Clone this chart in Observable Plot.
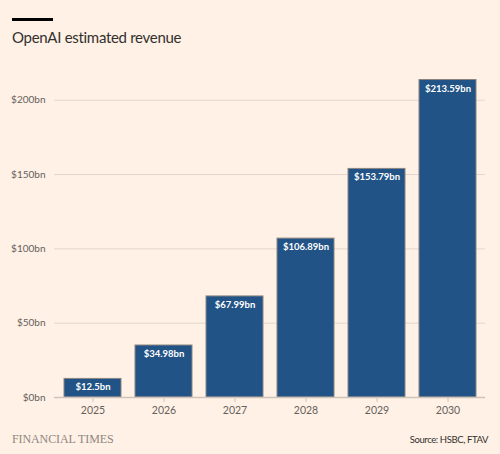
<!DOCTYPE html>
<html>
<head>
<meta charset="utf-8">
<script src="https://cdn.jsdelivr.net/npm/d3@7"></script>
<script src="https://cdn.jsdelivr.net/npm/@observablehq/plot@0.6"></script>
<style>
  html, body { margin: 0; padding: 0; background: #FFF1E5; }
  #wrap { position: relative; width: 500px; height: 454px; background: #FFF1E5; font-family: Lato, "Noto Sans", sans-serif; }
  #rule { position: absolute; left: 12px; top: 18px; width: 41px; height: 3px; background: #000; }
  #title { position: absolute; left: 12px; top: 28px; font-size: 15px; letter-spacing: -0.3px; color: #33302e; line-height: 18px; }
  #chart { position: absolute; left: 0; top: 60px; }
  #ft { position: absolute; left: 12px; top: 432px; font-family: "Liberation Serif", "DejaVu Serif", serif; font-size: 12px; color: #8e8680; letter-spacing: -0.1px; }
  #source { position: absolute; right: 12px; top: 434px; font-size: 9.5px; letter-spacing: -0.4px; color: #33302e; }
</style>
</head>
<body>
<div id="wrap">
  <div id="rule"></div>
  <div id="title">OpenAI estimated revenue</div>
  <div id="chart"></div>
  <div id="ft">FINANCIAL TIMES</div>
  <div id="source">Source: HSBC, FTAV</div>
</div>
<script>
const years = ["2025", "2026", "2027", "2028", "2029", "2030"];
const revenue = [12.5, 34.98, 67.99, 106.89, 153.79, 213.59];
const labels = ["$12.5bn", "$34.98bn", "$67.99bn", "$106.89bn", "$153.79bn", "$213.59bn"];
const yTicks = [0, 50, 100, 150, 200];

const data = years.map((y, i) => ({year: y, value: revenue[i], label: labels[i]}));

const chart = Plot.plot({
  width: 500,
  height: 360,
  marginTop: 10,
  marginBottom: 23,
  marginLeft: 54,
  marginRight: 15,
  style: {background: "transparent", fontFamily: "Lato, 'Noto Sans', sans-serif", fontSize: "10px", color: "#66605c"},
  x: {domain: years, paddingInner: 0.2, paddingOuter: 0.1, label: null},
  y: {domain: [0, 220], label: null},
  marks: [
    Plot.ruleY(yTicks.filter(d => d > 0), {stroke: "#e3d6cb", strokeWidth: 1}),
    Plot.barY(data, {x: "year", y: "value", fill: "#215386", stroke: "#8a8580", strokeWidth: 1}),
    Plot.ruleY([0], {stroke: "#cfc4b9", strokeWidth: 1.5}),
    Plot.text(data, {x: "year", y: "value", text: "label", dy: 8.5, fill: "#ffffff", fontWeight: "bold", fontSize: 9.5}),
    Plot.axisY({ticks: yTicks, tickFormat: d => `$${d}bn`, tickSize: 0, tickPadding: 9, fontSize: 10, fill: "#66605c"}),
    Plot.axisX({tickSize: 5, tickPadding: 4, stroke: "#cfc4b9", fontSize: 10.5, fill: "#66605c"})
  ]
});
document.getElementById("chart").appendChild(chart);
</script>
</body>
</html>
